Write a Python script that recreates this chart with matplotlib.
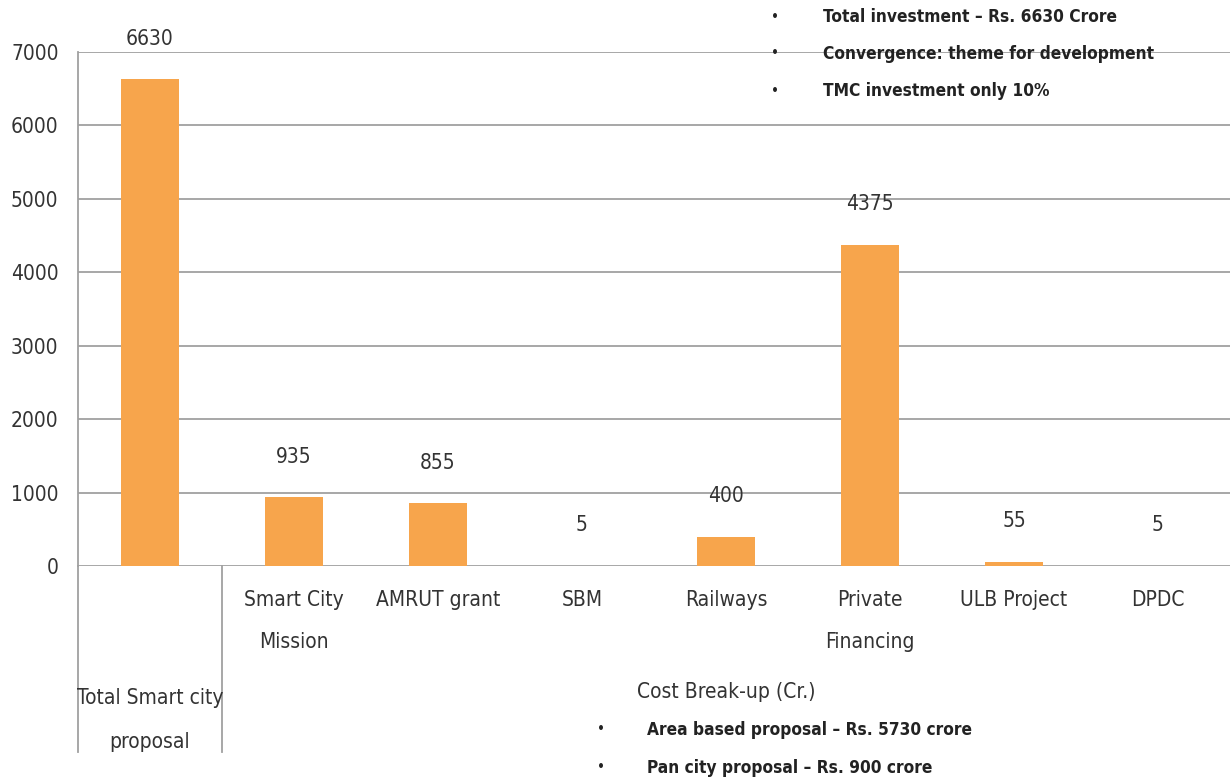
import matplotlib
matplotlib.use("Agg")
import matplotlib.pyplot as plt

plt.rcParams['font.family'] = ['DejaVu Sans']
plt.rcParams['font.stretch'] = 'condensed'

# data
categories = ['', 'Smart City\nMission', 'AMRUT grant', 'SBM', 'Railways',
              'Private\nFinancing', 'ULB Project', 'DPDC']
values = [6630, 935, 855, 5, 400, 4375, 55, 5]
yticks = [0, 1000, 2000, 3000, 4000, 5000, 6000, 7000]
group1 = 'Total Smart city\nproposal'
group2 = 'Cost Break-up (Cr.)'
top_notes = ['Total investment \u2013 Rs. 6630 Crore',
             'Convergence: theme for development',
             'TMC investment only 10%']
bottom_notes = ['Area based proposal \u2013 Rs. 5730 crore',
                'Pan city proposal \u2013 Rs. 900 crore']

bar_color = '#F7A54C'
grid_color = '#A0A0A0'
text_color = '#333333'
fs = 15

fig = plt.figure(figsize=(12.3, 7.82), dpi=100)
ax = fig.add_axes([0.0634, 0.2762, 0.9366, 0.6573])

x = list(range(len(values)))
ax.bar(x, values, width=0.4, color=bar_color, zorder=3)
ax.set_xlim(-0.5, len(values) - 0.5)
ax.set_ylim(0, 7000)
ax.set_yticks(yticks)
ax.set_yticklabels([str(t) for t in yticks], fontsize=fs, color=text_color)
ax.yaxis.grid(True, color=grid_color, linewidth=1.3, zorder=0)
ax.set_axisbelow(True)
for s in ['top', 'right', 'bottom']:
    ax.spines[s].set_visible(False)
ax.spines['left'].set_color(grid_color)
ax.spines['left'].set_linewidth(1.3)
ax.tick_params(axis='y', length=0, pad=14)

ax.set_xticks(x)
ax.set_xticklabels(categories, fontsize=fs, color=text_color, linespacing=2.39,
                   va='top')
ax.tick_params(axis='x', length=0, pad=17)

# value labels
for xi, v in zip(x, values):
    ax.annotate(str(v), (xi, v), xytext=(0, 22), textcoords='offset points',
                ha='center', va='bottom', fontsize=fs, color=text_color)

# multi-level category lines
tr = ax.get_xaxis_transform()
for xl in [-0.5, 0.5]:
    ax.plot([xl, xl], [0, -0.362], transform=tr, color=grid_color,
            linewidth=1.3, clip_on=False)
ax.text(0, -0.30, group1, transform=tr, ha='center', va='center',
        fontsize=fs, color=text_color, linespacing=2.5)
ax.text(4, -0.245, group2, transform=tr, ha='center', va='center',
        fontsize=fs, color=text_color)

# notes
for i, t in enumerate(top_notes):
    y = 1 - (17 + 37 * i) / 782
    fig.text(0.630, y, '\u2022', ha='center', va='center', fontsize=11,
             color='#222222')
    fig.text(0.669, y, t, ha='left', va='center', fontsize=12.4,
             fontweight='bold', color='#222222')
for i, t in enumerate(bottom_notes):
    y = 1 - (730 + 38 * i) / 782
    fig.text(0.489, y, '\u2022', ha='center', va='center', fontsize=11,
             color='#222222')
    fig.text(0.526, y, t, ha='left', va='center', fontsize=12.4,
             fontweight='bold', color='#222222')

fig.savefig('out.png', dpi=100)
